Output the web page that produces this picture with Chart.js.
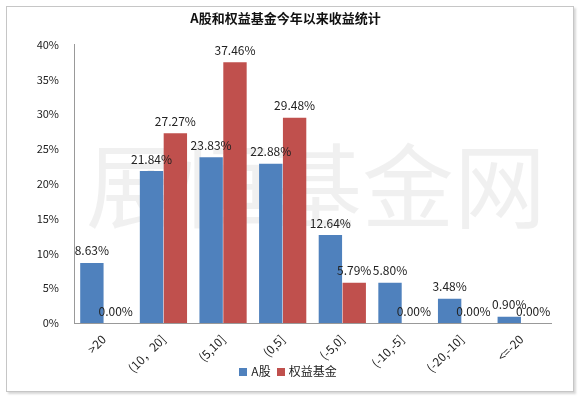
<!DOCTYPE html>
<html>
<head>
<meta charset="utf-8">
<script src="https://cdn.jsdelivr.net/npm/chart.js@4"></script>
<style>
  body { margin: 0; background: #fff; }
  #wrap { position: relative; width: 580px; height: 398px; }
  #frame { position: absolute; left: 6px; top: 6px; width: 566px; height: 384px;
           border: 1px solid #c6c6c6; box-shadow: 2px 2px 2px #d8d8d8; pointer-events: none; }
  #legend { position: absolute; left: 0; width: 576px; top: 362px; text-align: center;
            font: 12px 'Noto Sans CJK SC', sans-serif; color: #222; }
  #legend span.item { margin: 0 3px; }
  #legend i { display: inline-block; width: 8px; height: 8px; margin-right: 4px; }
</style>
</head>
<body>
<div id="wrap">
  <canvas id="myChart" width="580" height="398"></canvas>
  <div id="legend"></div>
  <div id="frame"></div>
</div>
<script>
const categories = [">20", "(10，20]", "(5,10]", "(0,5]", "(-5,0]", "(-10,-5]", "(-20,-10]", "<=-20"];
const stockValues = [8.63, 21.84, 23.83, 22.88, 12.64, 5.80, 3.48, 0.90];
const fundValues = [0.00, 27.27, 37.46, 29.48, 5.79, 0.00, 0.00, 0.00];
const yTicks = [0, 5, 10, 15, 20, 25, 30, 35, 40];

const font = "'Noto Sans CJK SC', 'DejaVu Sans', sans-serif";

// light watermark behind the bars
const watermark = {
  id: "watermark",
  beforeDatasetsDraw(chart) {
    const c = chart.ctx;
    c.save();
    c.font = "92px " + font;
    c.fillStyle = "rgba(0,0,0,0.06)";
    c.textAlign = "center";
    c.textBaseline = "middle";
    c.fillText("展恒基金网", 316, 186);
    c.restore();
  },
};

// value labels above each bar
const valueLabels = {
  id: "valueLabels",
  afterDatasetsDraw(chart) {
    const c = chart.ctx;
    c.save();
    c.font = "12px " + font;
    c.fillStyle = "#222";
    c.textAlign = "center";
    c.textBaseline = "bottom";
    chart.data.datasets.forEach((ds, i) => {
      chart.getDatasetMeta(i).data.forEach((bar, j) => {
        c.fillText(ds.data[j].toFixed(2) + "%", bar.x, bar.y - 6);
      });
    });
    c.restore();
  },
};

const ctx = document.getElementById("myChart").getContext("2d");
const myChart = new Chart(ctx, {
  type: "bar",
  data: {
    labels: categories,
    datasets: [
      {
        label: "A股",
        data: stockValues,
        backgroundColor: "#4F81BD",
      },
      {
        label: "权益基金",
        data: fundValues,
        backgroundColor: "#C0504D",
      },
    ],
  },
  options: {
    responsive: false,
    animation: false,
    layout: { padding: { left: 20, right: 29, top: 10, bottom: 10 } },
    datasets: {
      bar: { categoryPercentage: 0.8, barPercentage: 0.98 },
    },
    plugins: {
      title: {
        display: true,
        text: "A股和权益基金今年以来收益统计",
        color: "#111",
        font: { family: font, size: 13, weight: "bold" },
        padding: { top: 0, bottom: 19 },
      },
      legend: { display: false },
      tooltip: { enabled: false },
    },
    scales: {
      x: {
        grid: { display: false, drawTicks: false },
        border: { color: "#999" },
        ticks: {
          maxRotation: 45,
          minRotation: 45,
          color: "#222",
          padding: 9,
          font: { family: font, size: 12 },
        },
        afterFit: (s) => { s.height = 65; },
      },
      y: {
        min: 0,
        max: 40,
        grid: { display: false },
        border: { color: "#999" },
        afterBuildTicks: (s) => { s.ticks = yTicks.map((v) => ({ value: v })); },
        afterFit: (s) => { s.width = 54; },
        ticks: {
          color: "#222",
          padding: 7,
          font: { family: font, size: 11 },
          callback: (v) => v + "%",
        },
      },
    },
  },
  plugins: [watermark, valueLabels],
});

// legend built from the dataset labels and colours
document.getElementById("legend").innerHTML = myChart.data.datasets
  .map((ds) => '<span class="item"><i style="background:' + ds.backgroundColor + '"></i>' + ds.label + "</span>")
  .join("");
</script>
</body>
</html>
